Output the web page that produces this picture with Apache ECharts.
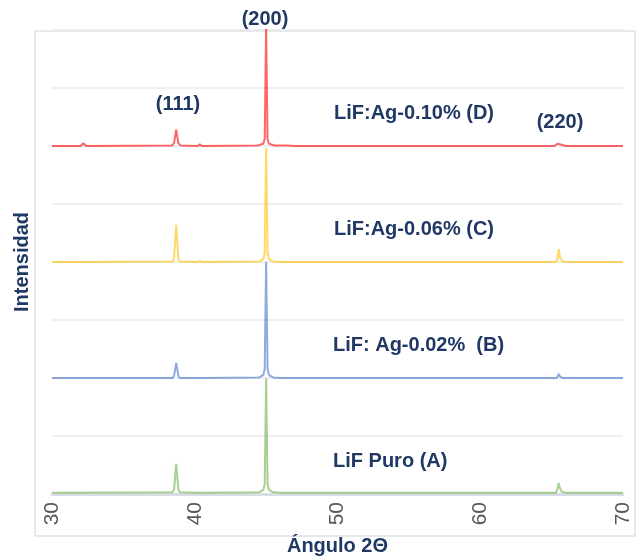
<!DOCTYPE html>
<html>
<head>
<meta charset="utf-8">
<script src="https://cdn.jsdelivr.net/npm/echarts@6/dist/echarts.min.js"></script>
<style>html,body{margin:0;padding:0;background:#fff}#c{width:636px;height:557px}</style>
</head>
<body>
<div id="c"></div>
<script>
// Relative intensities (angle 2θ, intensity above each pattern's baseline)
const puroA = [[30,0],[38.45,0.01],[38.55,0.06],[38.7,0.5],[38.85,0.06],[38.95,0.01],[40.3,0],[40.4,0.02],[40.5,0],[44.5,0.01],[44.8,0.05],[44.9,0.15],[45.0,1.97],[45.1,0.15],[45.2,0.05],[45.5,0.01],[46,0],[65.3,0],[65.4,0.06],[65.5,0.17],[65.55,0.1],[65.7,0.02],[66,0],[70,0]];
const ag002B = [[30,0],[38.45,0],[38.55,0.04],[38.7,0.26],[38.85,0.04],[38.95,0],[40.3,0],[40.4,0.01],[40.5,0],[44.5,0.01],[44.8,0.05],[44.9,0.15],[45.0,2.0],[45.1,0.15],[45.2,0.05],[45.5,0.01],[46,0],[65.35,0],[65.45,0.03],[65.5,0.07],[65.6,0.02],[65.8,0],[70,0]];
const ag006C = [[30,0],[32.1,0],[32.2,0.02],[32.3,0],[38.45,0.01],[38.55,0.06],[38.7,0.64],[38.85,0.06],[38.95,0.01],[40.2,0],[40.35,0.02],[40.5,0],[44.5,0.01],[44.8,0.05],[44.9,0.15],[45.0,1.97],[45.1,0.15],[45.2,0.05],[45.5,0.01],[46,0],[65.3,0],[65.4,0.05],[65.5,0.22],[65.6,0.06],[65.8,0.01],[66,0],[70,0]];
const ag010D = [[30,0],[32.0,0],[32.2,0.05],[32.4,0],[38.4,0.01],[38.55,0.05],[38.7,0.28],[38.85,0.05],[39.0,0.01],[40.2,0],[40.35,0.03],[40.5,0],[44.4,0.01],[44.8,0.04],[44.9,0.12],[45.0,2.05],[45.1,0.12],[45.2,0.04],[45.6,0.01],[46.5,0.01],[47,0],[54.8,0],[54.9,0.02],[55.0,0],[57.4,0],[57.5,0.02],[57.6,0],[65.2,0],[65.4,0.04],[65.5,0.07],[65.7,0.02],[66,0],[70,0]];
const offsets = [0.02, 2, 4, 6];
const seriesNames = ['LiF Puro (A)', 'LiF: Ag-0.02%  (B)', 'LiF:Ag-0.06% (C)', 'LiF:Ag-0.10% (D)'];
const colors = ['#70AD47', '#4472C4', '#FFC000', '#FF0000'];
const xTicks = [30, 40, 50, 60, 70];

const patterns = [puroA, ag002B, ag006C, ag010D];
const chart = echarts.init(document.getElementById('c'));
const navy = '#1F3864';
const txtFont = 'Liberation Sans, Arial, sans-serif';

const series = patterns.map((p, i) => ({
  name: seriesNames[i],
  type: 'line',
  showSymbol: false,
  data: p.map(d => [d[0], d[1] + offsets[i]]),
  lineStyle: { color: colors[i], width: 2, opacity: 0.6 },
  itemStyle: { color: colors[i] },
  z: 2 + (3 - i)
}));

function txt(text, x, y, align) {
  return {
    type: 'text', x: x, y: y, z: 100,
    style: { text: text, fill: navy, font: 'bold 20px ' + txtFont, textAlign: align || 'center', textVerticalAlign: 'middle' }
  };
}

chart.setOption({
  animation: false,
  grid: { left: 52, right: 13, top: 30, bottom: 63, containLabel: false, outerBoundsMode: 'none' },
  xAxis: {
    type: 'value', min: 30, max: 70, interval: 10,
    name: 'Ángulo 2Θ', nameLocation: 'middle', nameGap: 42,
    nameTextStyle: { color: navy, fontWeight: 'bold', fontSize: 20, fontFamily: txtFont },
    axisLine: { lineStyle: { color: '#D9DDE5', width: 3 } },
    axisTick: { show: false },
    splitLine: { show: false },
    axisLabel: { rotate: 90, color: '#595959', fontSize: 21, fontFamily: txtFont, margin: 8,
      formatter: v => xTicks.includes(v) ? String(v) : '' }
  },
  yAxis: {
    type: 'value', min: 0, max: 8, interval: 1,
    name: 'Intensidad', nameLocation: 'middle', nameGap: 20, nameRotate: 90,
    nameTextStyle: { color: navy, fontWeight: 'bold', fontSize: 20, fontFamily: txtFont },
    axisLine: { show: false }, axisTick: { show: false }, axisLabel: { show: false },
    splitLine: { lineStyle: { color: '#E6E9EF', width: 1.5 } }
  },
  graphic: [
    { type: 'rect', shape: { x: 35, y: 31, width: 600, height: 505 }, style: { fill: null, stroke: '#E0E3E8', lineWidth: 1.5 }, z: 0 },
    txt('(200)', 265, 19),
    txt('(111)', 178, 104),
    txt('(220)', 560, 122),
    txt('LiF:Ag-0.10% (D)', 334, 113, 'left'),
    txt('LiF:Ag-0.06% (C)', 334, 229, 'left'),
    txt('LiF: Ag-0.02%  (B)', 333, 345, 'left'),
    txt('LiF Puro (A)', 333, 461, 'left')
  ],
  series: series
});
</script>
</body>
</html>
